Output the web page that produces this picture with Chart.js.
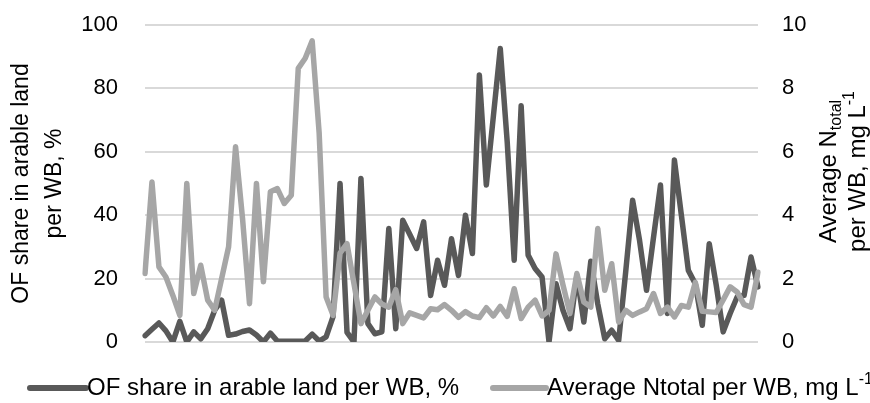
<!DOCTYPE html>
<html>
<head>
<meta charset="utf-8">
<script src="https://cdn.jsdelivr.net/npm/chart.js@4.4.1/dist/chart.umd.min.js"></script>
<style>
  html, body { margin: 0; padding: 0; background: #fff; }
  #wrap { width: 870px; height: 403px; }
</style>
</head>
<body>
<div id="wrap"><canvas id="myChart"></canvas></div>
<script>
// OF share in arable land per water body, %
const ofShare = [
  2, 4, 6, 3.5, 0, 6.5, 0, 3.2, 1, 4.2,
  10, 13.2, 2.1, 2.5, 3.3, 3.8, 2.2, 0, 2.8, 0.3,
  0.2, 0.2, 0.2, 0.3, 2.5, 0.3, 1.6, 8, 50, 3,
  0, 51.6, 5.8, 2.6, 3.2, 35.8, 4.2, 38.4, 34, 29.5,
  37.9, 14.7, 25.8, 17.9, 32.6, 21, 40, 27.9, 84.2, 49.5,
  71, 92.6, 63, 25.8, 74.5, 27.4, 23.2, 20.5, 0, 18.4,
  10, 4.2, 21, 6.3, 25.5, 12, 1, 3.7, 0.5, 22,
  44.7, 32, 16.3, 33, 49.5, 9, 57.4, 40, 22.6, 18.4,
  5.3, 31, 18, 3.2, 9, 14.2, 14.7, 26.8, 17.4
]
// Average Ntotal per water body, mg L-1
const nTotal = [
  2.16, 5.05, 2.37, 2.05, 1.47, 0.84, 5.0, 1.53, 2.42, 1.32,
  1.0, 2.0, 3.0, 6.16, 3.9, 1.21, 5.0, 1.9, 4.74, 4.84,
  4.37, 4.63, 8.63, 8.95, 9.5, 6.6, 1.42, 0.84, 2.8, 3.1,
  1.84, 0.58, 1.0, 1.42, 1.2, 1.1, 1.65, 0.58, 0.92, 0.84,
  0.76, 1.05, 1.02, 1.18, 1.0, 0.78, 0.96, 0.82, 0.77, 1.08,
  0.82, 1.12, 0.81, 1.68, 0.74, 1.1, 1.32, 0.82, 1.0, 2.78,
  1.8, 0.9, 2.16, 1.26, 1.1, 3.58, 1.63, 2.47, 0.63, 1.0,
  0.84, 0.95, 1.05, 1.53, 0.9, 1.1, 0.79, 1.15, 1.1, 1.88,
  0.97, 0.95, 0.93, 1.33, 1.74, 1.58, 1.18, 1.1, 2.2
]
const wbLabels = Array.from({ length: ofShare.length }, (_, i) => 'WB ' + (i + 1))
const leftTicks = [0, 20, 40, 60, 80, 100]
const rightTicks = [0, 2, 4, 6, 8, 10]

const FONT = "'Liberation Sans', Arial, sans-serif"
const darkGrey = '#595959'
const lightGrey = '#a6a6a6'
const clear = 'rgba(0,0,0,0)'

// draws a line made of normal, sub and sup runs
const drawRuns = (ctx, runs, x, y, size) => {
  const small = Math.round(size * 0.65)
  runs.forEach((r) => {
    ctx.font = (r.s === 'n' ? size : small) + 'px ' + FONT
    let dy = 0
    if (r.s === 'sub') dy = size * 0.3
    if (r.s === 'sup') dy = -size * 0.35
    ctx.fillText(r.t, x, y + dy)
    x += ctx.measureText(r.t).width
  })
}

const runsWidth = (ctx, runs, size) => {
  const small = Math.round(size * 0.65)
  let total = 0
  runs.forEach((r) => {
    ctx.font = (r.s === 'n' ? size : small) + 'px ' + FONT
    total += ctx.measureText(r.t).width
  })
  return total
}

// rotated (bottom-to-top) and centred on cx, cy
const drawRotated = (ctx, runs, cx, cy, size) => {
  ctx.save()
  ctx.fillStyle = '#000'
  ctx.textBaseline = 'middle'
  ctx.textAlign = 'left'
  const total = runsWidth(ctx, runs, size)
  ctx.translate(cx, cy)
  ctx.rotate(-Math.PI / 2)
  drawRuns(ctx, runs, -total / 2, 0, size)
  ctx.restore()
}

const axisTitles = {
  id: 'axisTitles',
  afterDraw(chart) {
    const ctx = chart.ctx
    const mid = (chart.chartArea.top + chart.chartArea.bottom) / 2
    drawRotated(ctx, [{ t: 'OF share in arable land', s: 'n' }], 22, mid, 23)
    drawRotated(ctx, [{ t: 'per WB, %', s: 'n' }], 55, mid, 23)
    drawRotated(ctx, [{ t: 'Average N', s: 'n' }, { t: 'total', s: 'sub' }], 829, mid - 12, 24)
    drawRotated(ctx, [{ t: 'per WB, mg L', s: 'n' }, { t: '-1', s: 'sup' }], 858, mid - 12, 24)
  },
}

// legend with line samples, laid out like the original
const legendRuns = [
  [{ t: 'OF share in arable land per WB, %', s: 'n' }],
  [{ t: 'Average Ntotal per WB, mg L', s: 'n' }, { t: '-1', s: 'sup' }],
]
const lineLegend = {
  id: 'lineLegend',
  afterDraw(chart) {
    const ctx = chart.ctx
    const y = 388
    const items = [
      { x0: 30, x1: 86, ds: chart.data.datasets[0], runs: legendRuns[0] },
      { x0: 493, x1: 546, ds: chart.data.datasets[1], runs: legendRuns[1] },
    ]
    ctx.save()
    items.forEach((it) => {
      ctx.strokeStyle = it.ds.borderColor
      ctx.lineWidth = 6
      ctx.lineCap = 'round'
      ctx.beginPath()
      ctx.moveTo(it.x0, y)
      ctx.lineTo(it.x1, y)
      ctx.stroke()
      ctx.fillStyle = '#000'
      ctx.textBaseline = 'middle'
      ctx.textAlign = 'left'
      drawRuns(ctx, it.runs, it.x1 + 1, y, 24)
    })
    ctx.restore()
  },
}

const data = {
  labels: wbLabels,
  datasets: [
    {
      label: 'OF share in arable land per WB, %',
      data: ofShare,
      yAxisID: 'y',
      order: 2,
      borderColor: darkGrey,
      backgroundColor: darkGrey,
      borderWidth: 5.5,
      pointRadius: 0,
      borderJoinStyle: 'round',
      borderCapStyle: 'round',
      tension: 0,
    },
    {
      label: 'Average Ntotal per WB, mg L-1',
      data: nTotal,
      yAxisID: 'y1',
      order: 1, // secondary series sits on top, as in the original
      borderColor: lightGrey,
      backgroundColor: lightGrey,
      borderWidth: 5.5,
      pointRadius: 0,
      borderJoinStyle: 'round',
      borderCapStyle: 'round',
      tension: 0,
    },
  ],
}

const config = {
  type: 'line',
  data: data,
  plugins: [axisTitles, lineLegend],
  options: {
    responsive: true,
    maintainAspectRatio: false,
    animation: false,
    layout: { padding: { top: 25, bottom: 0, left: 0, right: 0 } },
    plugins: {
      tooltip: { enabled: false },
      legend: { display: false },
    },
    scales: {
      x: {
        type: 'category',
        offset: false,
        grid: { display: false },
        border: { display: false },
        ticks: { display: false },
        afterFit: (scale) => { scale.height = 61 },
      },
      y: {
        type: 'linear',
        position: 'left',
        min: leftTicks[0],
        max: leftTicks[leftTicks.length - 1],
        ticks: {
          stepSize: leftTicks[1] - leftTicks[0],
          padding: 0,
          color: '#000',
          font: { family: FONT, size: 22 },
        },
        // invisible tick marks keep the labels away from the plot
        grid: { color: '#d9d9d9', lineWidth: 2, drawTicks: true, tickLength: 27, tickColor: clear },
        border: { display: false },
        afterFit: (scale) => { scale.width = 145 },
      },
      y1: {
        type: 'linear',
        position: 'right',
        min: rightTicks[0],
        max: rightTicks[rightTicks.length - 1],
        ticks: {
          stepSize: rightTicks[1] - rightTicks[0],
          padding: 0,
          color: '#000',
          font: { family: FONT, size: 22 },
        },
        grid: { color: clear, drawOnChartArea: false, drawTicks: true, tickLength: 24, tickColor: clear },
        border: { display: false },
        afterFit: (scale) => { scale.width = 112 },
      },
    },
  },
}

var myChart = new Chart(document.getElementById('myChart'), config)
</script>
</body>
</html>
